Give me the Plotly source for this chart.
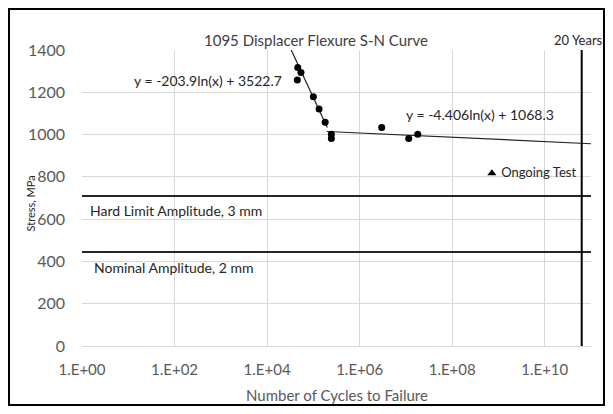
import numpy as np
import plotly.graph_objects as go

# ---- data ----
s1_cycles = [4.6e4, 5.4e4, 4.5e4, 1.0e5, 1.33e5, 1.8e5]
s1_stress = [1317, 1293, 1258, 1179, 1121, 1058]
s2_cycles = [2.45e5, 2.45e5, 3.0e6, 1.15e7, 1.8e7]
s2_stress = [1001, 982, 1034, 982, 1001]
ongoing_cycles = [7.2e8]
ongoing_stress = [817]
fit1 = (-203.9, 3522.7)   # y = a ln(x) + b
fit2 = (-4.406, 1068.3)
fit1_range = [3.0e4, 2.0e5]
fit2_range = [1.95e5, 1.0e11]
hard_limit_stress = 710
nominal_stress = 445
twenty_years_cycles = 6.3e10
x_tickvals = [1e0, 1e2, 1e4, 1e6, 1e8, 1e10]
x_ticktext = ["1.E+00", "1.E+02", "1.E+04", "1.E+06", "1.E+08", "1.E+10"]
y_tickvals = [0, 200, 400, 600, 800, 1000, 1200, 1400]

FONT = "Lato"
GRAY = "#595959"
DARK = "#262626"

def fit_line(fit, rng):
    xs = np.logspace(np.log10(rng[0]), np.log10(rng[1]), 60)
    return xs, fit[0] * np.log(xs) + fit[1]

fig = go.Figure()
x1, y1 = fit_line(fit1, fit1_range)
x2, y2 = fit_line(fit2, fit2_range)
fig.add_trace(go.Scatter(x=x1, y=y1, mode="lines", line=dict(color="#222222", width=1.2), hoverinfo="skip"))
fig.add_trace(go.Scatter(x=x2, y=y2, mode="lines", line=dict(color="#222222", width=1.2), hoverinfo="skip"))
fig.add_trace(go.Scatter(x=s1_cycles, y=s1_stress, mode="markers", marker=dict(color="black", size=7)))
fig.add_trace(go.Scatter(x=s2_cycles, y=s2_stress, mode="markers", marker=dict(color="black", size=7)))
fig.add_trace(go.Scatter(x=ongoing_cycles, y=ongoing_stress, mode="markers+text",
                         marker=dict(color="black", size=8, symbol="triangle-up"),
                         text=[" Ongoing Test"], textposition="middle right",
                         textfont=dict(family=FONT, size=13, color=DARK)))
xr = [1e0, 1e11]
fig.add_trace(go.Scatter(x=xr, y=[hard_limit_stress] * 2, mode="lines", line=dict(color=DARK, width=2)))
fig.add_trace(go.Scatter(x=xr, y=[nominal_stress] * 2, mode="lines", line=dict(color=DARK, width=2)))
fig.add_trace(go.Scatter(x=[twenty_years_cycles] * 2, y=[0, 1400], mode="lines", line=dict(color="black", width=2)))

# page has an 8px body margin; keep the figure small enough to avoid scrollbars
fig.update_layout(
    width=597, height=398,
    margin=dict(l=74, r=14, t=42, b=60),
    paper_bgcolor="white", plot_bgcolor="white",
    showlegend=False,
    font=dict(family=FONT, color=GRAY),
    xaxis=dict(type="log", range=[0, 11], tickvals=x_tickvals, ticktext=x_ticktext,
               showgrid=True, gridcolor="#d9d9d9", gridwidth=1, zeroline=False,
               showline=True, linecolor="#d9d9d9", ticks="", ticklabelstandoff=10,
               tickfont=dict(family=FONT, size=15, color=GRAY)),
    yaxis=dict(range=[0, 1400], tickvals=y_tickvals, showgrid=True, gridcolor="#d9d9d9",
               gridwidth=1, zeroline=False, showline=False, ticks="", ticklabelstandoff=16,
               tickfont=dict(family=FONT, size=16, color=GRAY)),
    shapes=[dict(type="rect", xref="paper", yref="paper", x0=-0.1434, x1=1.0255, y0=-0.1993, y1=1.1385,
                 line=dict(color="black", width=2), layer="below")],
    annotations=[
        dict(text="1095 Displacer Flexure S-N Curve", xref="paper", yref="paper", x=0.46, y=1.034,
             yanchor="middle", showarrow=False, font=dict(family=FONT, size=15, color="#404040")),
        dict(text="20 Years", xref="x", yref="paper", x=np.log10(twenty_years_cycles), y=1.034,
             yanchor="middle", xshift=-3, showarrow=False, font=dict(family=FONT, size=13, color=DARK)),
        dict(text="y = -203.9ln(x) + 3522.7", xref="x", yref="y", x=np.log10(530), y=1258,
             showarrow=False, font=dict(family=FONT, size=14, color=DARK)),
        dict(text="y = -4.406ln(x) + 1068.3", xref="x", yref="y", x=np.log10(4e8), y=1093,
             showarrow=False, font=dict(family=FONT, size=14, color=DARK)),
        dict(text="Hard Limit Amplitude, 3 mm", xref="x", yref="y", x=np.log10(1.35), y=639,
             xanchor="left", showarrow=False, font=dict(family=FONT, size=14, color=DARK)),
        dict(text="Nominal Amplitude, 2 mm", xref="x", yref="y", x=np.log10(1.64), y=369,
             xanchor="left", showarrow=False, font=dict(family=FONT, size=14, color=DARK)),
        dict(text="Stress, MPa", xref="paper", yref="paper", x=-0.118, y=0.483, textangle=-90,
             showarrow=False, font=dict(family=FONT, size=11, color=DARK)),
        dict(text="Number of Cycles to Failure", xref="paper", yref="paper", x=0.5, y=-0.166,
             yanchor="middle", showarrow=False, font=dict(family=FONT, size=15, color=GRAY)),
    ],
)

fig.write_html("out.html")
